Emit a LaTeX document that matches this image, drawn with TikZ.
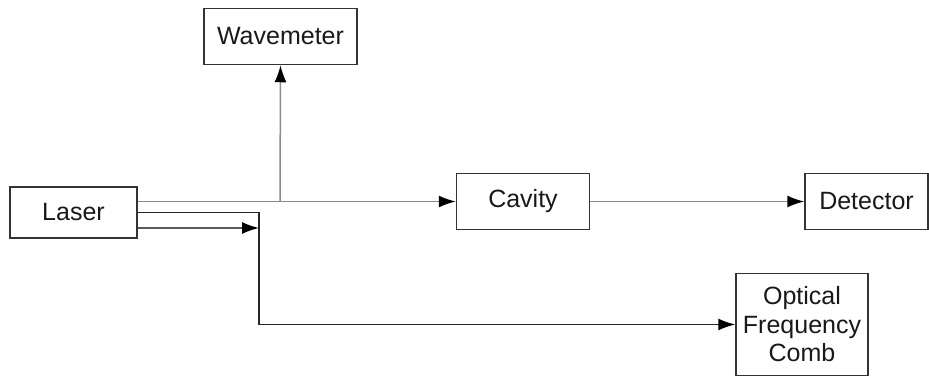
\documentclass[tikz,border=0pt]{standalone}
\usepackage{fontspec}
\setmainfont{Liberation Sans}
\usetikzlibrary{arrows.meta}

\definecolor{boxline}{HTML}{333333}
\definecolor{beamgray}{HTML}{8A8A8A}
\definecolor{beamdark}{HTML}{5A5A5A}

\tikzset{
  block/.style={draw=boxline, line width=1.5pt, fill=white, inner sep=0pt,
    align=center, font=\fontsize{25}{28.5}\selectfont, text=black!90},
  beam/.style={line width=1.5pt, -{Latex[length=17pt,width=12pt,color=black]}},
}

\begin{document}
\begin{tikzpicture}[x=1pt, y=-1pt]
  \useasboundingbox (0,0) rectangle (929,377);

  % optical components
  \node[block, minimum width=127pt, minimum height=51pt]  (laser)    at (73.5,212.5) {Laser};
  \node[block, minimum width=153pt, minimum height=56pt]  (wavem)    at (280.5,36.5) {Wavemeter};
  \node[block, minimum width=133pt, minimum height=56pt]  (cavity)   at (523,201.5)  {Cavity};
  \node[block, minimum width=123pt, minimum height=56pt]  (detector) at (866.5,201.5) {Detector};
  \node[block, minimum width=132pt, minimum height=102pt] (comb)     at (802,324.5)  {Optical\\Frequency\\Comb};

  % branch points of the beams
  \coordinate (split) at (259,212.5);
  \coordinate (tap)   at (280,201.5);
  \coordinate (tip)   at (259,228);

  % main beam: laser -> cavity -> detector, with a pick-off to the wavemeter
  \draw[line width=1.5pt, beamgray] (laser.east |- cavity.west) -- (tap);
  \draw[beam, beamgray] (tap) -- (cavity.west);
  \draw[beam, beamgray] (tap) -- (wavem.south);
  \draw[beam, beamgray] (cavity.east) -- (detector.west);

  % beam to the frequency comb
  \draw[beam, black!85] (laser.east) -- (split) |- (comb.west);

  % short beam
  \draw[beam, beamdark] (laser.east |- tip) -- (tip);
\end{tikzpicture}
\end{document}
